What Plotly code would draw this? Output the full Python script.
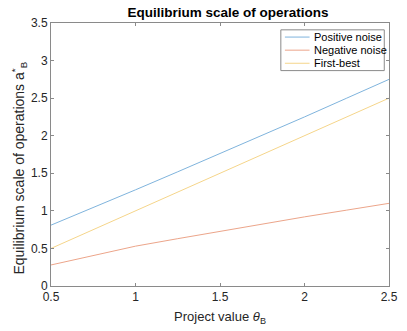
import plotly.graph_objects as go

theta = [0.5, 0.75, 1.0, 1.25, 1.5, 1.75, 2.0, 2.25, 2.5]
positive_noise = [0.81, 1.04, 1.28, 1.52, 1.76, 2.00, 2.25, 2.50, 2.75]
negative_noise = [0.28, 0.41, 0.53, 0.63, 0.73, 0.83, 0.92, 1.01, 1.10]
first_best = [0.5, 0.75, 1.0, 1.25, 1.5, 1.75, 2.0, 2.25, 2.5]

series_names = ["Positive noise", "Negative noise", "First-best"]
series_colors = ["#7fb4dd", "#eca58a", "#f5d58a"]

x_ticks = [0.5, 1, 1.5, 2, 2.5]
x_ticktext = ["0.5", "1", "1.5", "2", "2.5"]
y_ticks = [0, 0.5, 1, 1.5, 2, 2.5, 3, 3.5]
y_ticktext = ["0", "0.5", "1", "1.5", "2", "2.5", "3", "3.5"]

font_family = "Liberation Sans, Arial, sans-serif"
txt = "#262626"
axc = "#8a8a8a"

fig = go.Figure()
for name, ys, col in zip(series_names, [positive_noise, negative_noise, first_best], series_colors):
    fig.add_trace(go.Scatter(x=theta, y=ys, mode="lines", name=name,
                             line=dict(color=col, width=1), showlegend=False))

# MATLAB-style compact legend box (paper coordinates)
fig.add_shape(type="rect", xref="paper", yref="paper", x0=0.680, x1=0.986, y0=0.819, y1=0.974,
              line=dict(color=axc, width=1), fillcolor="white", layer="above")
row_y = [0.9465, 0.8967, 0.8469]
for name, col, yy in zip(series_names, series_colors, row_y):
    fig.add_shape(type="line", xref="paper", yref="paper", x0=0.692, x1=0.765, y0=yy, y1=yy,
                  line=dict(color=col, width=1), layer="above")
    fig.add_annotation(text=name, xref="paper", yref="paper", x=0.772, y=yy,
                       xanchor="left", yanchor="middle", showarrow=False,
                       font=dict(size=11, color="black"))

# y-axis title (MATLAB places it slightly below centre)
fig.add_annotation(text="Equilibrium scale of operations a<sup>*</sup><sub>B</sub>",
                   xref="paper", yref="paper", x=-0.095, y=0.45, textangle=-90,
                   xanchor="center", yanchor="middle", showarrow=False,
                   font=dict(size=14, color=txt))

fig.update_layout(
    width=407, height=331,
    margin=dict(l=51, r=9, t=23, b=37),
    paper_bgcolor="white", plot_bgcolor="white",
    font=dict(family=font_family, size=12, color=txt),
    title=dict(text="<b>Equilibrium scale of operations</b>", x=0.56, xanchor="center",
               y=0.962, yanchor="middle", font=dict(size=13.5, color="black")),
    showlegend=False,
)
fig.update_xaxes(range=[0.5, 2.5], tickvals=x_ticks, ticktext=x_ticktext,
                 ticks="inside", ticklen=3, tickcolor=axc, showline=True, linecolor=axc,
                 linewidth=1, mirror="ticks", showgrid=False, zeroline=False,
                 ticklabeloverflow="allow",
                 tickfont=dict(size=12, color=txt),
                 title=dict(text="Project value <i>θ</i><sub>B</sub>", font=dict(size=13, color=txt), standoff=8))
fig.update_yaxes(range=[0, 3.5], tickvals=y_ticks, ticktext=y_ticktext,
                 ticks="inside", ticklen=3, tickcolor=axc, showline=True, linecolor=axc,
                 linewidth=1, mirror="ticks", showgrid=False, zeroline=False,
                 ticklabeloverflow="allow",
                 tickfont=dict(size=12, color=txt))

fig.write_html("out.html", config={"displayModeBar": False},
               post_script="document.body.style.margin='0px';")
